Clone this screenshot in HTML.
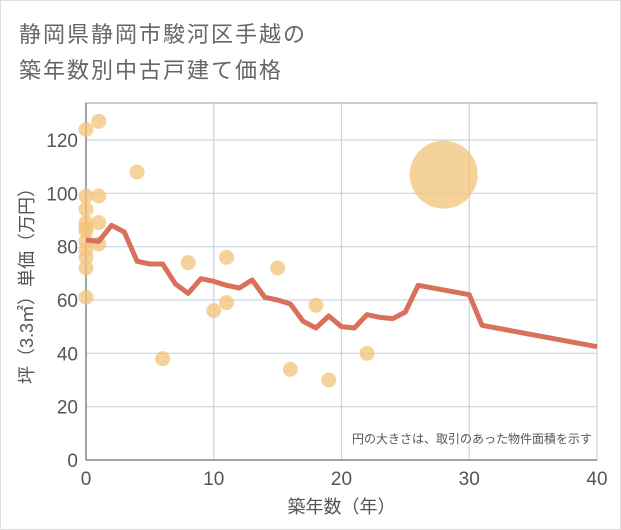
<!DOCTYPE html>
<html><head><meta charset="utf-8"><style>
body{margin:0;background:#fff}
#wrap{position:relative;width:619px;height:528px;border:1px solid #ddd;background:#fff;font-family:"Liberation Sans","Noto Sans CJK JP",sans-serif}
.title{position:absolute;left:18px;font-size:22px;color:#666;letter-spacing:2px;white-space:nowrap}
</style></head><body>
<div id="wrap">
<div class="title" style="top:16px">静岡県静岡市駿河区手越の</div>
<div class="title" style="top:52px">築年数別中古戸建て価格</div>
<svg id="chart" width="621" height="530" style="position:absolute;left:-1px;top:-1px"></svg>
</div>
<script>
const xTicks=[0,10,20,30,40];
const yTicks=[0,20,40,60,80,100,120];
const lineAges=[0,1,2,3,4,5,6,7,8,9,10,11,12,13,14,15,16,17,18,19,20,21,22,23,24,25,26,30,31,40];
const linePrices=[82.5,82,88,85.5,74.5,73.5,73.5,66,62.5,68,67,65.5,64.5,67.5,61,60,58.5,52,49.5,54,50,49.5,54.5,53.5,53,55.5,65.5,62,50.5,42.5];
const ptAges=[0,1,4,0,1,0,0,1,0,0,0,1,0,0,0,0,6,8,10,11,11,15,16,18,19,22,28];
const ptPrices=[124,127,108,99,99,94,89,89,87,86,82,81,79,76,72,61,38,74,56,59,76,72,34,58,30,40,107];
const ptSizes=[1,1,1,1,1,1,1,1,1,1,1,1,1,1,1,1,1,1,1,1,1,1,1,1,1,1,24];
const X0=86,X1=597,Y0=460,Y1=140,TOP=103;
const sx=v=>X0+(v-0)/40*(X1-X0);
const sy=v=>Y0-(v/120)*(Y0-Y1);
const svg=document.getElementById('chart');
const NS='http://www.w3.org/2000/svg';
function mk(t,a){const e=document.createElementNS(NS,t);for(const k in a)e.setAttribute(k,a[k]);svg.appendChild(e);return e;}
let e=mk('rect',{x:X0,y:TOP,width:X1-X0,height:Y0-TOP,fill:'#fff',stroke:'#999','stroke-width':1});


yTicks.forEach(t=>{
 let g=mk('line',{x1:X0,x2:X1,y1:sy(t),y2:sy(t),stroke:'#c8d4e0','stroke-width':1.2});
 
 
 let l=mk('text',{x:X0-8,y:sy(t)+7,'text-anchor':'end','font-size':19,fill:'#555'});
 l.textContent=t;
 
 
});
xTicks.forEach(t=>{
 let g=mk('line',{x1:sx(t),x2:sx(t),y1:TOP,y2:Y0,stroke:'#c8d4e0','stroke-width':1.2});
 
 
 let l=mk('text',{x:sx(t),y:Y0+25,'text-anchor':'middle','font-size':19,fill:'#555'});
 l.textContent=t;
 
 
});
let ax=mk('line',{x1:X0,x2:X0,y1:TOP,y2:Y0,stroke:'#888','stroke-width':1.5});


ax=mk('line',{x1:X0,x2:X1,y1:Y0,y2:Y0,stroke:'#888','stroke-width':1.5});


ptAges.forEach((a,i)=>{
 let c=mk('circle',{cx:sx(a),cy:sy(ptPrices[i]),r:ptSizes[i]>1?34:7.5,fill:'#f3c37a','fill-opacity':0.75});
 
 
});
let p=mk('polyline',{points:lineAges.map((a,i)=>sx(a)+','+sy(linePrices[i])).join(' '),fill:'none',stroke:'#d9705a','stroke-width':5,'stroke-linejoin':'round'});


let n=mk('text',{x:592,y:443,'text-anchor':'end','font-size':12,fill:'#555'});
n.textContent='円の大きさは、取引のあった物件面積を示す';


let xt=mk('text',{x:(X0+X1)/2,y:513,'text-anchor':'middle','font-size':18,fill:'#555'});
xt.textContent='築年数（年）';


let yt=mk('text',{x:33,y:(TOP+Y0)/2,'text-anchor':'middle','font-size':18,fill:'#555',transform:'rotate(-90 33 '+((TOP+Y0)/2)+')'});
yt.textContent='坪（3.3㎡）単価（万円）';


</script>
</body></html>
